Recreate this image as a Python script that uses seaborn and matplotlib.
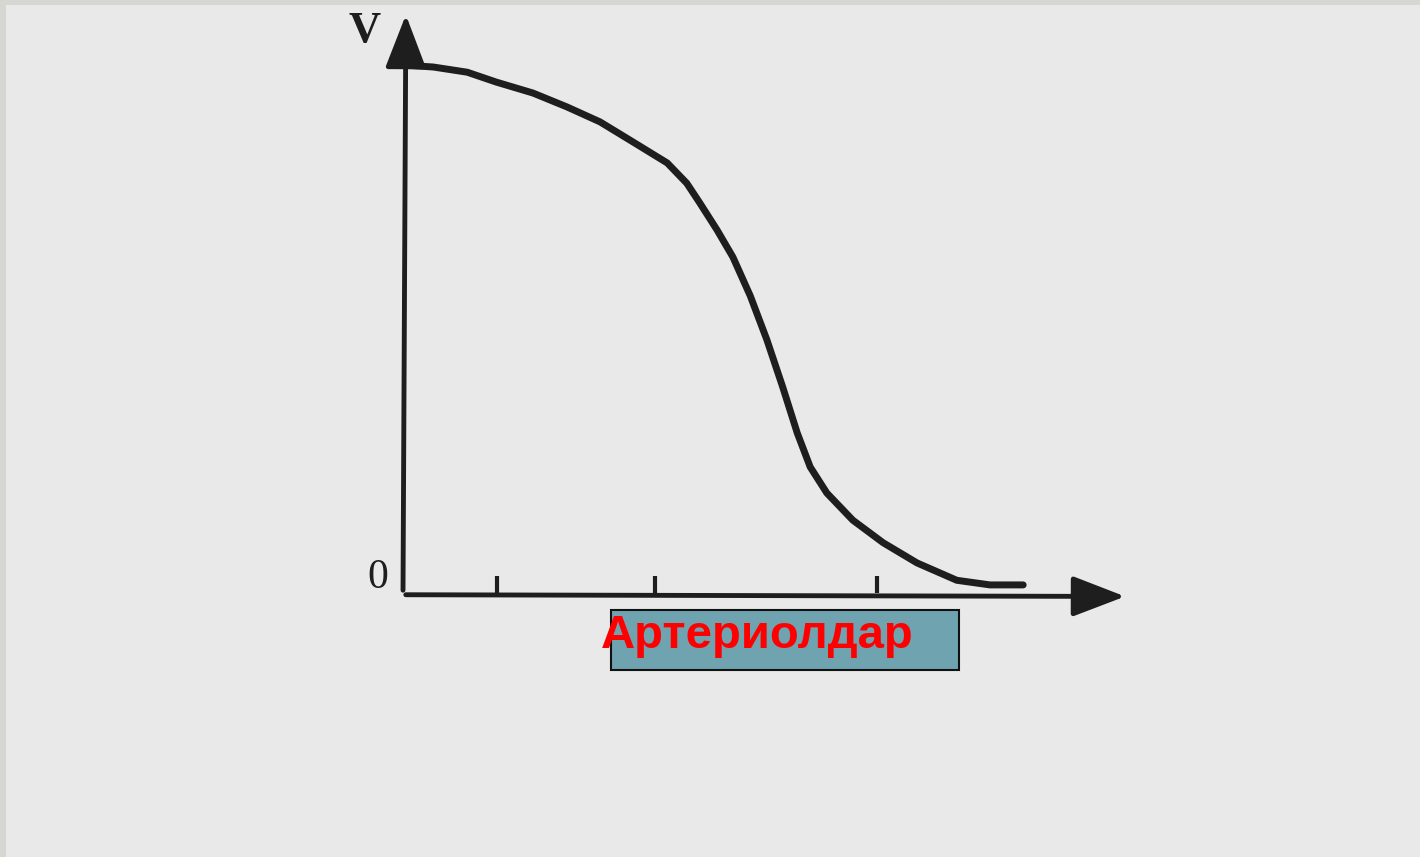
import matplotlib
matplotlib.use("Agg")
import matplotlib.pyplot as plt
from matplotlib.patches import Rectangle, FancyArrowPatch
import seaborn as sns
import pandas as pd

# ---- data (arbitrary units) ----
distance = [0.06, 0.42, 0.89, 1.29, 1.80, 2.27, 2.73, 3.19, 3.66, 3.93,
            4.11, 4.35, 4.57, 4.81, 5.04, 5.26, 5.46, 5.64, 5.87, 6.23,
            6.65, 7.12, 7.67, 8.13, 8.59]
velocity = [9.13, 9.10, 9.01, 8.84, 8.65, 8.41, 8.15, 7.80, 7.44, 7.09,
            6.75, 6.28, 5.81, 5.14, 4.38, 3.56, 2.77, 2.18, 1.73, 1.26,
            0.87, 0.52, 0.22, 0.14, 0.14]
tick_positions = [1.30, 3.49, 6.57]
y_label = "V"
origin_label = "0"
category_label = "Артериолдар"

sns.set_theme(style="white")
plt.rcParams['font.family'] = ['Liberation Sans', 'DejaVu Sans']

BG = "#e9e9e9"
fig = plt.figure(figsize=(14.2, 8.57), dpi=100, facecolor="#d6d6d2")
# inner light page
fig.patches.append(Rectangle((6/1420, 0), 1, 1 - 5/857, transform=fig.transFigure,
                             facecolor=BG, edgecolor="none", zorder=-5))
ax = fig.add_axes([0, 0, 1, 1])
ax.set_zorder(5)
ax.set_facecolor("none")
ax.patch.set_alpha(0)

# map data so that x=0 -> px 403, y=0 -> px 593
sx, sy = 72.2, 57.8
ax.set_xlim(-403 / sx, (1420 - 403) / sx)
ax.set_ylim(-(857 - 593) / sy, 593 / sy)
ax.axis("off")

df = pd.DataFrame({"distance": distance, "velocity": velocity})
sns.lineplot(data=df, x="distance", y="velocity", sort=False, ax=ax,
             color="#1e1e1e", linewidth=5.0, solid_capstyle="round",
             solid_joinstyle="round", zorder=3)

# axes arrows
ya = FancyArrowPatch((0.0, 0.0), (0.04, 10.05),
                     arrowstyle="-|>,head_length=1.3,head_width=0.5",
                     mutation_scale=25, color="#1e1e1e", linewidth=3.5, zorder=4)
xa = FancyArrowPatch((0.0, -0.03), (10.04, -0.06),
                     arrowstyle="-|>,head_length=1.3,head_width=0.5",
                     mutation_scale=25, color="#1e1e1e", linewidth=3.5, zorder=4)
ax.add_patch(ya)
ax.add_patch(xa)

ax.vlines(tick_positions, 0, 0.30, colors="#1e1e1e", linewidth=3, zorder=4)

ax.text(-0.53, 9.72, y_label, fontsize=32, fontweight="bold",
        family="Liberation Serif", color="#1e1e1e",
        ha="center", va="center", zorder=5)
ax.text(-0.35, 0.27, origin_label, fontsize=30, family="Liberation Serif",
        color="#1e1e1e", ha="center", va="center", zorder=5)

# label box
ax.add_patch(Rectangle((611 / 1420, 1 - 670 / 857), 348 / 1420, 60 / 857,
                       transform=ax.transAxes, facecolor="#6fa3b0",
                       edgecolor="#111111", linewidth=1.5, zorder=5))
ax.text(757 / 1420, 1 - 636 / 857, category_label, transform=ax.transAxes,
        fontsize=34, fontweight="bold", color="#ff0000",
        ha="center", va="center", zorder=6)

fig.savefig("out.png", dpi=100, facecolor=fig.get_facecolor())
